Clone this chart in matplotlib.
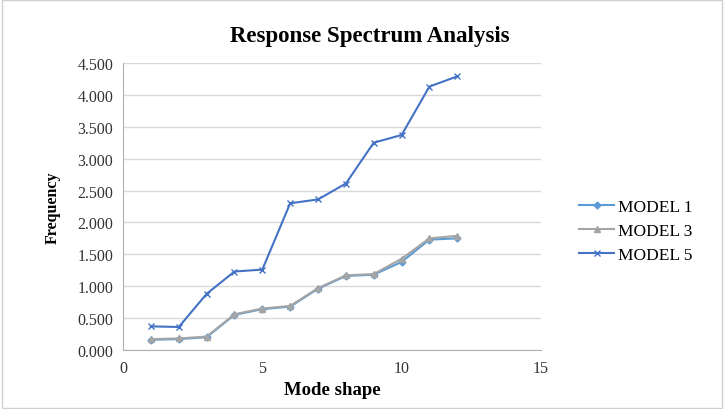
import matplotlib.pyplot as plt
from matplotlib.ticker import FormatStrFormatter

plt.rcParams['font.family'] = ['Liberation Serif', 'DejaVu Serif']

modes = [1, 2, 3, 4, 5, 6, 7, 8, 9, 10, 11, 12]
model_1 = [0.16, 0.17, 0.20, 0.55, 0.64, 0.68, 0.96, 1.16, 1.18, 1.38, 1.73, 1.75]
model_3 = [0.17, 0.18, 0.21, 0.56, 0.65, 0.69, 0.97, 1.17, 1.19, 1.43, 1.75, 1.79]
model_5 = [0.37, 0.36, 0.88, 1.23, 1.26, 2.30, 2.36, 2.61, 3.25, 3.37, 4.13, 4.29]

fig = plt.figure(figsize=(7.24, 4.10), dpi=100)
ax = fig.add_axes([0.170, 0.144, 0.577, 0.700])

# Outer chart border
fig.patches.append(plt.Rectangle((0.003, 0.003), 0.994, 0.994, transform=fig.transFigure,
                                 fill=False, edgecolor='#d0d0d0', linewidth=1))

ax.plot(modes, model_1, color='#5b9bd5', marker='D', markersize=3.5, linewidth=1.5, label='MODEL 1')
ax.plot(modes, model_3, color='#a5a5a5', marker='^', markersize=4, linewidth=1.5, label='MODEL 3')
ax.plot(modes, model_5, color='#4472c4', marker='x', markersize=4, linewidth=1.5, label='MODEL 5')

ax.set_xlim(0, 15)
ax.set_ylim(0, 4.5)
ax.set_xticks([0, 5, 10, 15])
ax.set_yticks([0, 0.5, 1.0, 1.5, 2.0, 2.5, 3.0, 3.5, 4.0, 4.5])
ax.yaxis.set_major_formatter(FormatStrFormatter('%.3f'))
ax.grid(axis='y', color='#d9d9d9', linewidth=1)
ax.set_axisbelow(True)
for side in ['top', 'right']:
    ax.spines[side].set_visible(False)
for side in ['left', 'bottom']:
    ax.spines[side].set_color('#b0b0b0')
ax.tick_params(length=0, labelsize=11.5, colors='#333333', pad=7)

# Title is centred on the whole chart area, not on the plot
fig.text(0.511, 0.912, 'Response Spectrum Analysis', fontsize=16.5, fontweight='bold',
         ha='center', va='center')
ax.set_xlabel('Mode shape', fontsize=13.5, fontweight='bold', labelpad=4)
ax.set_ylabel('Frequency', fontsize=11.5, fontweight='bold', labelpad=12)

ax.legend(loc='center left', bbox_to_anchor=(1.055, 0.415), frameon=False, fontsize=12.5,
          handlelength=2.0, labelspacing=0.45, handletextpad=0.2)

fig.savefig('out.png', dpi=100)
